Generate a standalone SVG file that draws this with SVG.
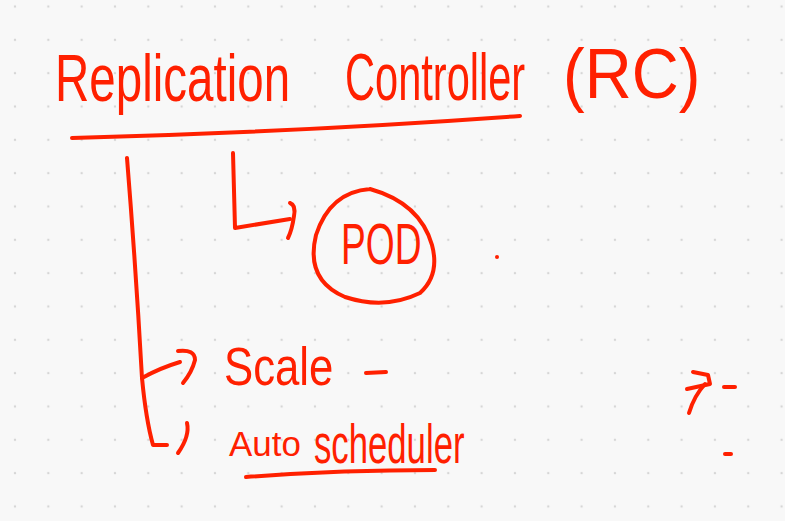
<svg xmlns="http://www.w3.org/2000/svg" width="785" height="521" viewBox="0 0 785 521">
  <defs>
    <pattern id="dots" x="15" y="6.5" width="33.33" height="33.33" patternUnits="userSpaceOnUse">
      <circle cx="0" cy="0" r="1.2" fill="#d6d6d6"/>
      <circle cx="33.33" cy="0" r="1.2" fill="#d6d6d6"/>
      <circle cx="0" cy="33.33" r="1.2" fill="#d6d6d6"/>
      <circle cx="33.33" cy="33.33" r="1.2" fill="#d6d6d6"/>
    </pattern>
  </defs>
  <style>
    .ink { fill: none; stroke: #ff2000; stroke-width: 4; stroke-linecap: round; stroke-linejoin: round; }
    .hand { fill: #ff2000; font-family: "Liberation Sans", "DejaVu Sans", sans-serif; }
  </style>
  <rect width="785" height="521" fill="#f8f8f8"/>
  <rect width="785" height="521" fill="url(#dots)"/>

  <g id="title">
    <text class="hand" transform="translate(55,101) scale(0.72,1)" font-size="66">Replication</text>
    <text class="hand" transform="translate(345,100) scale(0.63,1)" font-size="66">Controller</text>
    <text class="hand" transform="translate(563,98) scale(0.93,1)" font-size="70">(RC)</text>
    <path class="ink" d="M72,138 Q 300,132 520,116"/>
  </g>

  <g id="pod">
    <path class="ink" d="M370,189 Q 330,192 316,235 Q 305,280 345,297 Q 385,310 420,293 Q 440,275 432,245 Q 420,203 370,189"/>
    <text class="hand" transform="translate(341,264) scale(0.64,1)" font-size="58">POD</text>
  </g>

  <g id="scale">
    <text class="hand" transform="translate(224,385) scale(0.81,1)" font-size="54">Scale</text>
    <path class="ink" d="M366,373 L 386,372"/>
  </g>

  <g id="autoscheduler">
    <text class="hand" transform="translate(229,456) scale(0.97,1)" font-size="36">Auto</text>
    <text class="hand" transform="translate(314,463) scale(0.62,1)" font-size="56">scheduler</text>
    <path class="ink" d="M246,477 Q 340,470 435,470"/>
  </g>

  <g id="connectors">
    <path class="ink" d="M127,158 Q 136,270 142,378 Q 146,420 153,445 L 167,445"/>
    <path class="ink" d="M142,378 Q 160,368 180,362"/>
    <path class="ink" d="M178,351 Q 195,349 195,360 Q 192,372 183,383"/>
    <path class="ink" d="M187,423 Q 190,436 178,453"/>
    <path class="ink" d="M233,153 L 235,228 L 290,219"/>
    <path class="ink" d="M290,203 Q 296,205 294,216 Q 292,230 288,238"/>
  </g>

  <g id="marks">
    <circle cx="497" cy="257" r="2" fill="#ff2000"/>
    <path class="ink" d="M687,389 L 710,384 L 708,375 L 693,372"/>
    <path class="ink" d="M705,384 Q 694,396 689,413"/>
    <path class="ink" d="M724,387 L 735,387"/>
    <path class="ink" d="M725,454 L 731,454"/>
  </g>
</svg>
